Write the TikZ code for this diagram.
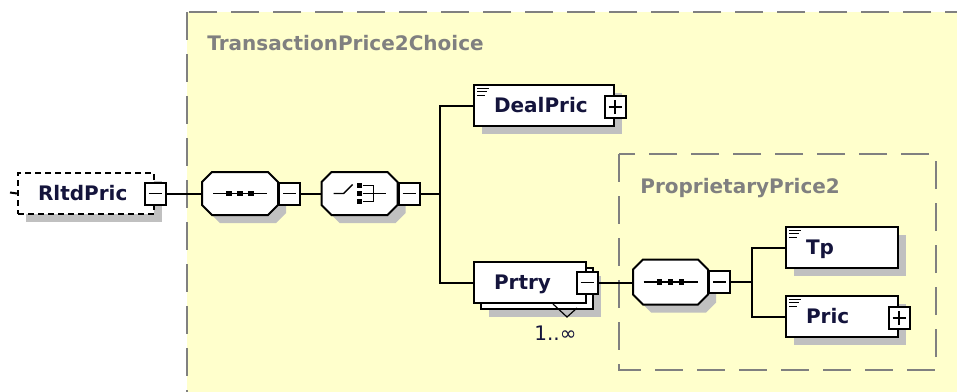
\documentclass[tikz,border=0pt]{standalone}
\usepackage{fontspec}
\setmainfont{DejaVu Sans}
\usetikzlibrary{positioning,shadows}
\definecolor{zonefill}{RGB}{255,255,204}
\definecolor{zonegrey}{RGB}{128,128,128}
\definecolor{shadegrey}{RGB}{192,192,192}
\definecolor{nametext}{RGB}{20,20,60}

\newcommand\octpath[1]{([xshift=10pt]#1.north west) -- ([xshift=-10pt]#1.north east) -- ([yshift=-10pt]#1.north east)
  -- ([yshift=10pt]#1.south east) -- ([xshift=-10pt]#1.south east) -- ([xshift=10pt]#1.south west)
  -- ([yshift=10pt]#1.south west) -- ([yshift=-10pt]#1.north west) -- cycle}
\newcommand\drawoct[1]{%
  \fill[shadegrey, transform canvas={shift={(8pt,-8pt)}}] \octpath{#1};
  \draw[fill=white] \octpath{#1};}
\newcommand\elemicon[1]{\draw[line width=0.8pt] ([shift={(4,4)}]#1.north west) -- ++(12,0) ++(-12,3.5) -- ++(10,0) ++(-10,3.5) -- ++(8,0);}
\newcommand\seqicon[1]{%
  \draw[line width=1.4pt] ([xshift=-27pt]#1.center) -- ([xshift=27pt]#1.center);
  \foreach \dx in {-11,0,11}
    \fill ([xshift=\dx pt]#1.center) ++(-2.8,-2.8) rectangle ++(5.6,5.6);}
\newcommand\choiceicon[1]{%
  \draw[line width=1.4pt] ([xshift=-26pt]#1.center) -- ++(10,0) -- ++(9,-9);
  \foreach \dy in {-8,0,8}
    \fill ([yshift=-\dy pt]#1.center) ++(-2.8,-2.8) rectangle ++(5.6,5.6);
  \draw[line width=1.4pt] ([xshift=3pt,yshift=8pt]#1.center) -- ++(11,0) -- ++(0,16) -- ++(-11,0);
  \draw[line width=1.4pt] ([xshift=3pt]#1.center) -- ++(23,0);}

\begin{document}
\begin{tikzpicture}[x=1pt,y=-1pt,
    line width=2pt,
    every node/.style={font=\fontsize{20}{24}\selectfont},
    link/.style={line width=2pt},
    shade/.style={general shadow={fill=shadegrey, shadow xshift=8pt, shadow yshift=-8pt}},
    elem/.style={draw, fill=white, rectangle, anchor=north west, minimum height=41pt,
        inner xsep=20pt, inner ysep=0pt, align=left, text height=14.5pt, text depth=0pt,
        font=\fontsize{20}{24}\selectfont\bfseries, text=nametext},
    compositor/.style={rectangle, minimum width=76pt, minimum height=43pt, inner sep=0pt, outer sep=0pt},
    togglebox/.style={draw, fill=white, rectangle, minimum width=21pt, minimum height=22pt, inner sep=0pt},
    minusbox/.style={togglebox, path picture={\draw[line width=1.4pt]
        ([xshift=4pt]path picture bounding box.west) -- ([xshift=-4pt]path picture bounding box.east);}},
    plusbox/.style={togglebox, path picture={\draw[line width=1.4pt]
        ([xshift=4pt]path picture bounding box.west) -- ([xshift=-4pt]path picture bounding box.east)
        ([yshift=4pt]path picture bounding box.south) -- ([yshift=-4pt]path picture bounding box.north);}},
    zoneline/.style={draw=zonegrey, line width=1.8pt, dash pattern=on 28pt off 14pt, fill=zonefill},
    zonelabel/.style={anchor=base west, text=zonegrey, font=\fontsize{20}{24}\selectfont\bfseries}
]
\useasboundingbox (0,0) rectangle (957,391);
\path[zoneline] (187,12) rectangle (980,410);
\node[zonelabel] (choicelabel) at (203,50) {TransactionPrice2Choice};
\path[zoneline] (619,154) rectangle (936,370);
\node[zonelabel] (proplabel) at (636,193) {ProprietaryPrice2};

\node[elem, shade, dash pattern=on 6pt off 4pt, text width=96pt] (rltd) at (17,172) {RltdPric};
\node[minusbox] (rltd-tog) at (rltd.east) {};
\coordinate (stub) at (10,192.5);

\node[compositor] (seqA) at (240,193.5) {};
\drawoct{seqA}
\node[minusbox, anchor=west] (seqA-tog) at (seqA.east) {};
\node[compositor] (choice) at (359.5,193.5) {};
\drawoct{choice}
\node[minusbox, anchor=west] (choice-tog) at (choice.east) {};
\coordinate (busA) at (440,193.5);

\node[elem, shade, text width=100pt] (dealpric) at (473,84) {DealPric};
\node[plusbox] (dealpric-tog) at ([yshift=-1.5pt]dealpric.east) {};

\node[elem, shade, text width=72pt] (prtry-back) at (480,267) {\phantom{Prtry}};
\node[elem, text width=72pt] (prtry) at (473,261) {Prtry};
\node[minusbox] (prtry-tog) at (prtry.east) {};
\node[anchor=base west, text=nametext] (prtry-occ) at (530,340) {1..∞};

\node[compositor, minimum width=75pt, minimum height=45pt] (seqB) at (670.5,282) {};
\drawoct{seqB}
\node[minusbox, anchor=west] (seqB-tog) at (seqB.east) {};
\coordinate (busB) at (752,282);

\node[elem, shade, text width=72pt] (tp) at (785,226) {Tp};
\node[elem, shade, text width=72pt] (pric) at (785,295) {Pric};
\node[plusbox] (pric-tog) at ([yshift=-1.5pt]pric.east) {};

\seqicon{seqA}
\choiceicon{choice}
\seqicon{seqB}
\elemicon{dealpric}
\elemicon{tp}
\elemicon{pric}
\draw[line width=1.2pt] (553,304) -- (567,317) -- (577,308);

\draw[link] (rltd.west) -- (stub);
\draw[link] (rltd-tog) -- (seqA);
\draw[link] (seqA-tog) -- (choice);
\draw[link] (choice-tog.east) -- (busA);
\draw[link] (busA) |- (dealpric.west);
\draw[link] (busA) |- (prtry.west);
\draw[link] (prtry-tog.east) -- (prtry-tog.east -| seqB.west);
\draw[link] (seqB-tog.east) -- (busB);
\draw[link] (busB) |- (tp.west);
\draw[link] (busB) |- (pric.west);
\end{tikzpicture}
\end{document}
